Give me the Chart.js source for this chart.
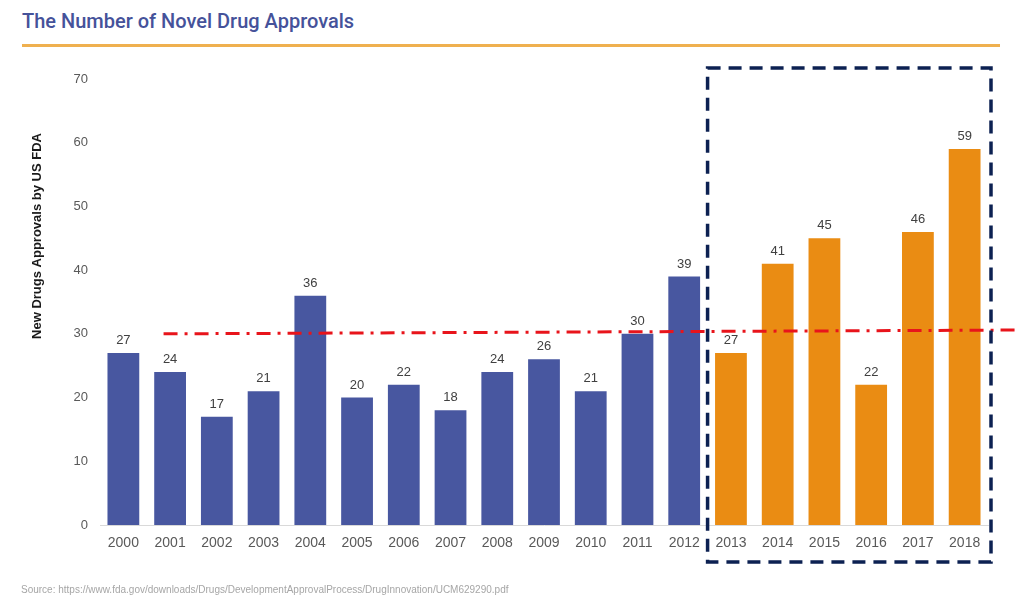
<!DOCTYPE html>
<html><head><meta charset="utf-8">
<script src="https://cdn.jsdelivr.net/npm/chart.js@4"></script>
<style>
html,body{margin:0;padding:0;background:#fff;width:1017px;height:605px;overflow:hidden;}
#wrap{position:absolute;left:0;top:0;width:1017px;height:605px;}
#title{position:absolute;left:22px;top:9px;font-family:"Roboto",sans-serif;font-weight:500;font-size:20px;color:#45529a;white-space:nowrap;}
#rule{position:absolute;left:22px;top:44px;width:978px;height:3px;background:#efb04f;}
#source{position:absolute;left:21px;top:584px;font-family:"Liberation Sans",Arial,sans-serif;font-size:10px;color:#a6a6a6;white-space:nowrap;}
canvas{position:absolute;left:0;top:0;}
</style></head>
<body>
<div id="wrap">
<div id="title">The Number of Novel Drug Approvals</div>
<div id="rule"></div>
<canvas id="c" width="1017" height="605"></canvas>
<div id="source">Source: https://www.fda.gov/downloads/Drugs/DevelopmentApprovalProcess/DrugInnovation/UCM629290.pdf</div>
</div>
<script>
const years = ["2000","2001","2002","2003","2004","2005","2006","2007","2008","2009","2010","2011","2012","2013","2014","2015","2016","2017","2018"];
const approvals = [27,24,17,21,36,20,22,18,24,26,21,30,39,27,41,45,22,46,59];
const highlightFrom = 13; // first highlighted year index (2013)
const yTicks = [0,10,20,30,40,50,60,70];
const avgLineValues = [30.0, 30.6]; // start/end value of the red dash-dot line
const avgLineIndex = [0.86, 19.13];  // start/end category position of the line
const yTitle = "New Drugs Approvals by US FDA";

const blue = "#4857a0", orange = "#ea8c13";

const overlay = {
  id:"overlay",
  afterDatasetsDraw(chart){
    const ctx = chart.ctx, x = chart.scales.x, y = chart.scales.y;
    const meta = chart.getDatasetMeta(0);
    ctx.save();
    ctx.font = "13px 'Liberation Sans', Arial, sans-serif";
    ctx.fillStyle = "#404040";
    ctx.textAlign = "center";
    ctx.textBaseline = "alphabetic";
    meta.data.forEach((b,i)=>{ ctx.fillText(String(approvals[i]), b.x, b.y - 9); });
    ctx.restore();
    ctx.save();
    ctx.translate(37, 236);
    ctx.rotate(-Math.PI/2);
    ctx.font = "bold 13px 'Liberation Sans', Arial, sans-serif";
    ctx.fillStyle = "#1a1a1a";
    ctx.textAlign = "center";
    ctx.textBaseline = "middle";
    ctx.fillText(yTitle, 0, 0);
    ctx.restore();
    const step = x.getPixelForValue(1) - x.getPixelForValue(0);
    const px = i => x.getPixelForValue(0) + i*step;
    ctx.save();
    ctx.strokeStyle = "#e8141b";
    ctx.lineWidth = 3;
    ctx.setLineDash([14,7,3,7]);
    ctx.beginPath();
    ctx.moveTo(px(avgLineIndex[0]), y.getPixelForValue(avgLineValues[0]));
    ctx.lineTo(px(avgLineIndex[1]), y.getPixelForValue(avgLineValues[1]));
    ctx.stroke();
    ctx.restore();
    const left = (px(highlightFrom-1) + px(highlightFrom))/2;
    const right = chart.chartArea.right + 3;
    ctx.save();
    ctx.strokeStyle = "#0c2152";
    ctx.lineWidth = 3.5;
    ctx.setLineDash([13,8]);
    ctx.strokeRect(left, 68, right-left, 562-68);
    ctx.restore();
  }
};

new Chart(document.getElementById("c"), {
  type:"bar",
  data:{ labels: years, datasets:[{ data: approvals,
    backgroundColor: approvals.map((v,i)=> i>=highlightFrom ? orange : blue),
    categoryPercentage:1, barPercentage:0.68 }]},
  options:{
    responsive:false, animation:false,
    layout:{ padding:{ left:0, right:29, top:79, bottom:0 } },
    plugins:{ legend:{display:false}, tooltip:{enabled:false} },
    scales:{
      x:{ grid:{ display:false, drawTicks:false }, border:{ display:true, color:"#d9d9d9", width:1 },
          ticks:{ color:"#595959", font:{ family:"'Liberation Sans', Arial, sans-serif", size:14 }, padding:10, maxRotation:0 },
          afterFit(s){ s.height = 80; } },
      y:{ min:0, max:70, grid:{ display:false, drawTicks:false }, border:{ display:false },
          afterBuildTicks(s){ s.ticks = yTicks.map(v=>({value:v})); },
          ticks:{ color:"#595959", font:{ family:"'Liberation Sans', Arial, sans-serif", size:13 }, padding:12 },
          afterFit(s){ s.width = 100; } }
    }
  },
  plugins:[overlay]
});
</script>
</body></html>
